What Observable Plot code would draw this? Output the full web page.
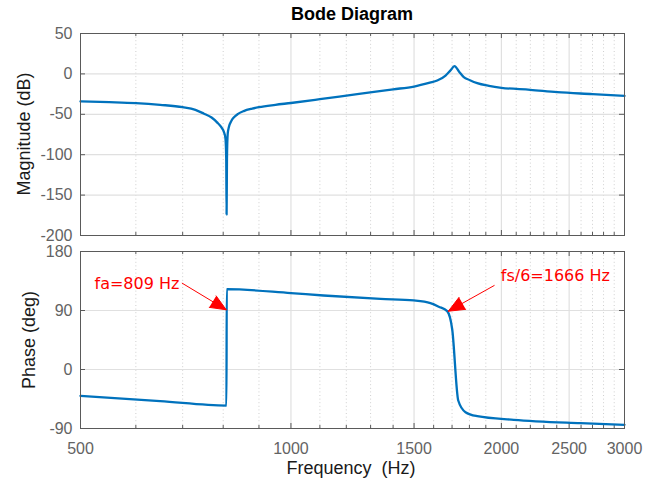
<!DOCTYPE html>
<html><head><meta charset="utf-8">
<script src="https://cdn.jsdelivr.net/npm/d3@7"></script>
<script src="https://cdn.jsdelivr.net/npm/@observablehq/plot@0.6"></script>
<style>
html,body{margin:0;padding:0;background:#fff;}
#wrap{position:relative;width:663px;height:483px;overflow:hidden;font-family:"Liberation Sans",Arial,sans-serif;}
#wrap svg{position:absolute;left:0;}
.lbl{position:absolute;white-space:pre;color:#1a1a1a;font-size:18px;line-height:1;}
</style></head>
<body><div id="wrap"></div>
<script>
// ---- data ----
const magFreq = [500,550,600,650,700,730,750,770,784,795,802,806,808,809,810,812,815,822,829,840,856,880,900,950,1000,1100,1244,1400,1500,1580,1619,1664,1690,1714,1740,1767,1800,1847,1920,2000,2200,2403,2700,3000];
const magDb   = [-34,-35,-36.2,-38.3,-41.2,-44.5,-49,-54,-60,-66,-72,-80,-105,-174,-105,-74,-66,-58,-53.6,-49.5,-46,-43,-41.2,-38.3,-36,-31.3,-25,-19.1,-15.6,-10.8,-8.2,-2,4,9.5,2.7,-4.1,-7.5,-11.5,-14.8,-17.2,-19.7,-22.6,-25,-27.2];

const phaseFreq = [500,650,808.6,809.4,1000,1113,1343,1499,1583,1627,1673,1701,1735,1777,1847,2083,2595,3000];
const phaseDeg  = [-40.2,-48.2,-55,122.5,116.5,112.9,107.8,105.3,101.2,95.8,89,61,-47.3,-65.1,-71.2,-76.7,-81.9,-84.4];

const xMajor = [500,1000,1500,2000,2500,3000];
const xMinor = [600,700,800,900,1100,1200,1300,1400,1600,1700,1800,1900,2100,2200,2300,2400,2600,2700,2800,2900];
const magTicks = [-200,-150,-100,-50,0,50];
const phaseTicks = [-90,0,90,180];

const noteLabels = ["fa=809 Hz", "fs/6=1666 Hz"];
const noteTextFreq = [523.6, 1996];
const noteTextDeg = [130.9, 143.5];
const arrowFromFreq = [699, 1953];
const arrowFromDeg = [131.6, 128.1];
const arrowToFreq = [808, 1679];
const arrowToDeg = [91.1, 88.9];

// ---- build tables ----
const magData = magFreq.map((f,i)=>({f, v: magDb[i]}));
const phaseData = phaseFreq.map((f,i)=>({f, v: phaseDeg[i]}));
const notes = noteLabels.map((t,i)=>({t, x: noteTextFreq[i], y: noteTextDeg[i], x1: arrowFromFreq[i], y1: arrowFromDeg[i], x2: arrowToFreq[i], y2: arrowToDeg[i]}));

const W = 663, ML = 80, MR = 39;
const innerW = W - ML - MR;
const frameColor = "#5a5a5a";
const tickText = "#636363";
const gridColor = "#e0e0e0";
const minorColor = "#cfcfcf";
const lineColor = "#0072BD";

function panel({height, marginTop, marginBottom, yDomain, yTicks, data, showX, extra}) {
  const innerH = height - marginTop - marginBottom;
  return Plot.plot({
    width: W, height, marginLeft: ML, marginRight: MR, marginTop, marginBottom,
    style: {fontFamily: "Liberation Sans, Arial, sans-serif", fontSize: "16px", background: "transparent", overflow: "visible"},
    x: {type: "log", domain: [500, 3000], axis: null},
    y: {domain: yDomain, axis: null},
    marks: [
      Plot.ruleX(xMinor, {stroke: minorColor, strokeDasharray: "1,2.6", strokeWidth: 1}),
      Plot.ruleX(xMajor.slice(1, -1), {stroke: gridColor, strokeWidth: 1.2}),
      Plot.ruleY(yTicks.slice(1, -1), {stroke: gridColor, strokeWidth: 1.2}),
      // inward tick marks
      Plot.ruleX(xMajor, {stroke: frameColor, insetTop: innerH - 5}),
      Plot.ruleX(xMajor, {stroke: frameColor, insetBottom: innerH - 5}),
      Plot.ruleX(xMinor, {stroke: frameColor, insetTop: innerH - 3}),
      Plot.ruleX(xMinor, {stroke: frameColor, insetBottom: innerH - 3}),
      Plot.ruleY(yTicks, {stroke: frameColor, insetRight: innerW - 5}),
      Plot.ruleY(yTicks, {stroke: frameColor, insetLeft: innerW - 5}),
      Plot.line(data, {x: "f", y: "v", stroke: lineColor, strokeWidth: 2.3, strokeLinejoin: "round", curve: "monotone-x"}),
      Plot.frame({stroke: frameColor, strokeWidth: 1}),
      Plot.axisY({ticks: yTicks, tickSize: 0, tickPadding: 8, tickFormat: d => String(d), label: null, fill: tickText, fontSize: 16}),
      showX ? Plot.axisX({ticks: xMajor, tickSize: 0, tickPadding: 14, tickFormat: d => String(d), label: null, fill: tickText, fontSize: 16}) : null,
      ...(extra || [])
    ]
  });
}

const topPanel = panel({height: 240, marginTop: 33, marginBottom: 5, yDomain: [-200, 50], yTicks: magTicks, data: magData, showX: false});
const bottomPanel = panel({height: 243, marginTop: 11, marginBottom: 55, yDomain: [-90, 180], yTicks: phaseTicks, data: phaseData, showX: true,
  extra: [
    Plot.arrow(notes, {x1: "x1", y1: "y1", x2: "x2", y2: "y2", stroke: "#ff0000", fill: "#ff0000", strokeWidth: 1, headLength: 27, headAngle: 46}),
    Plot.text(notes, {x: "x", y: "y", text: "t", textAnchor: "start", lineAnchor: "middle", fill: "#ff0000", fontSize: 16, fontFamily: "DejaVu Sans"})
  ]});

const wrap = document.getElementById("wrap");
topPanel.style.top = "0px";
bottomPanel.style.top = "240px";
wrap.appendChild(topPanel);
wrap.appendChild(bottomPanel);

function label(text, css) {
  const d = document.createElement("div");
  d.className = "lbl";
  d.textContent = text;
  Object.assign(d.style, css);
  wrap.appendChild(d);
  return d;
}
label("Bode Diagram", {left: "352px", top: "4.5px", transform: "translateX(-50%)", fontWeight: "bold", color: "#000"});
label("Frequency  (Hz)", {left: "351px", top: "458.5px", transform: "translateX(-50%)"});
label("Magnitude (dB)", {left: "24.3px", top: "134px", transform: "translate(-50%,-50%) rotate(-90deg)"});
label("Phase (deg)", {left: "28.8px", top: "339.5px", transform: "translate(-50%,-50%) rotate(-90deg)"});
</script>
</body></html>
